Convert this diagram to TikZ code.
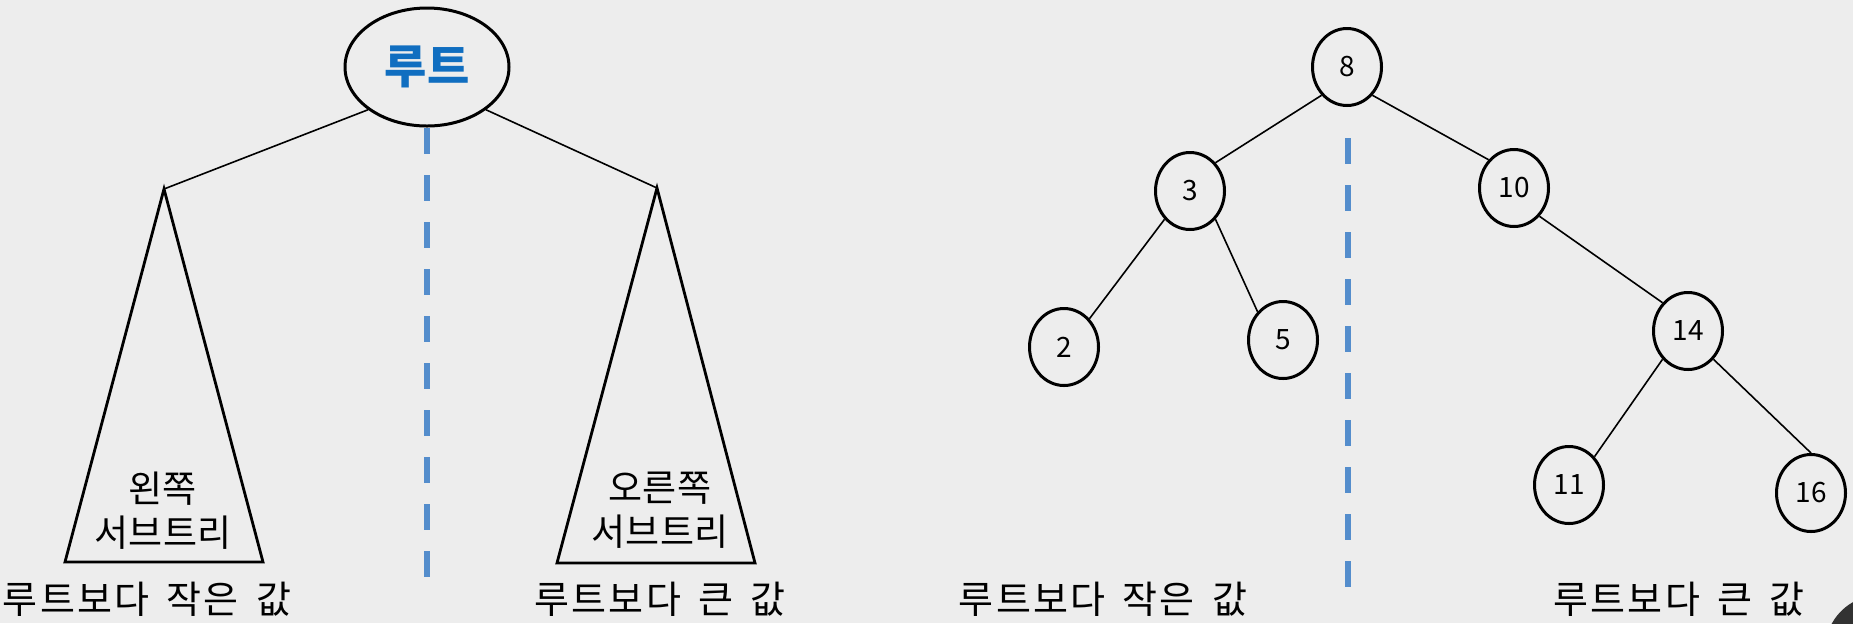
\documentclass[tikz,border=0pt]{standalone}
\usepackage{fontspec}
\setmainfont{Noto Sans CJK KR}
\newfontfamily\widekr[LetterSpace=6,WordSpace=1.6]{Noto Sans CJK KR}
\usetikzlibrary{positioning,shapes.geometric}

\definecolor{bgcol}{RGB}{237,237,237}
\definecolor{dashblue}{RGB}{84,141,204}
\definecolor{rootblue}{RGB}{16,110,192}
\definecolor{blobgray}{RGB}{50,50,50}

\tikzset{
  rootnode/.style={draw, ellipse, line width=1.5pt, minimum width=82pt, minimum height=59pt,
    inner sep=0pt, text=rootblue, font=\fontsize{23}{26}\selectfont\bfseries},
  keynode/.style={draw, ellipse, line width=1.5pt, minimum width=34.5pt, minimum height=38.5pt,
    inner sep=0pt, font=\fontsize{14}{16}\selectfont},
  treeline/.style={line width=0.8pt},
  subtree/.style={line width=1.4pt},
  divider/.style={dashblue, line width=3pt, dash pattern=on 13pt off 10.5pt},
  subtext/.style={align=center, inner sep=0pt, font=\fontsize{18.5}{22}\selectfont},
  sidetext/.style={inner sep=0pt, font=\widekr\fontsize{19}{22}\selectfont},
}

\begin{document}
\begin{tikzpicture}[x=0.5pt, y=-0.5pt]
  % page background
  \fill[bgcol] (0,0) rectangle (1853,623);
  \useasboundingbox (0,0) rectangle (1853,623);

  % root with its two subtrees
  \node[rootnode] (root) at (427,67) {루트};
  \coordinate (lapex) at (164,189);
  \coordinate (rapex) at (657,188);
  \draw[subtree] (lapex) -- (65,562) -- (263,562) -- cycle;
  \draw[subtree] (rapex) -- (557,563) -- (755,563) -- cycle;
  \draw[treeline] (root.south west) -- (lapex);
  \draw[treeline] (root.south east) -- (rapex);
  \node[subtext] (ltext) at (163,511) {왼쪽\\서브트리};
  \node[subtext] (rtext) at (660,510) {오른쪽\\서브트리};

  % dividing line under the root
  \coordinate (ltop) at (427,128);
  \coordinate (lbot) at (427,597);
  \draw[divider] (ltop) -- (lbot);
  \node[sidetext] (lsmall) at (147,599) {루트보다 작은 값};
  \node[sidetext] (lbig) at (660,599) {루트보다 큰 값};

  % binary search tree
  \node[keynode] (n8) at (1347,67) {8};
  \node[keynode] (n3) at (1190,191) {3};
  \node[keynode] (n10) at (1514,188) {10};
  \node[keynode] (n2) at (1064,347) {2};
  \node[keynode] (n5) at (1283,340) {5};
  \node[keynode] (n14) at (1688,331) {14};
  \node[keynode] (n11) at (1569,485) {11};
  \node[keynode] (n16) at (1811,493) {16};

  \draw[treeline] (n8.south west) -- (n3.north east);
  \draw[treeline] (n8.south east) -- (n10.north west);
  \draw[treeline] (n3.south west) -- (n2.north east);
  \draw[treeline] (n3.south east) -- (n5.north west);
  \draw[treeline] (n10.south east) -- (n14.north west);
  \draw[treeline] (n14.south west) -- (n11.north east);
  \draw[treeline] (n14.south east) -- (n16.north);

  % dividing line under 8
  \coordinate (rtop) at (1348,138);
  \coordinate (rbot) at (1348,607);
  \draw[divider] (rtop) -- (rbot);
  \node[sidetext] (rsmall) at (1103,599) {루트보다 작은 값};
  \node[sidetext] (rbig) at (1679,599) {루트보다 큰 값};

  % dark corner
  \begin{scope}
    \clip (0,0) rectangle (1853,623);
    \fill[blobgray] (1880,650) circle (27.5pt);
  \end{scope}
\end{tikzpicture}
\end{document}
